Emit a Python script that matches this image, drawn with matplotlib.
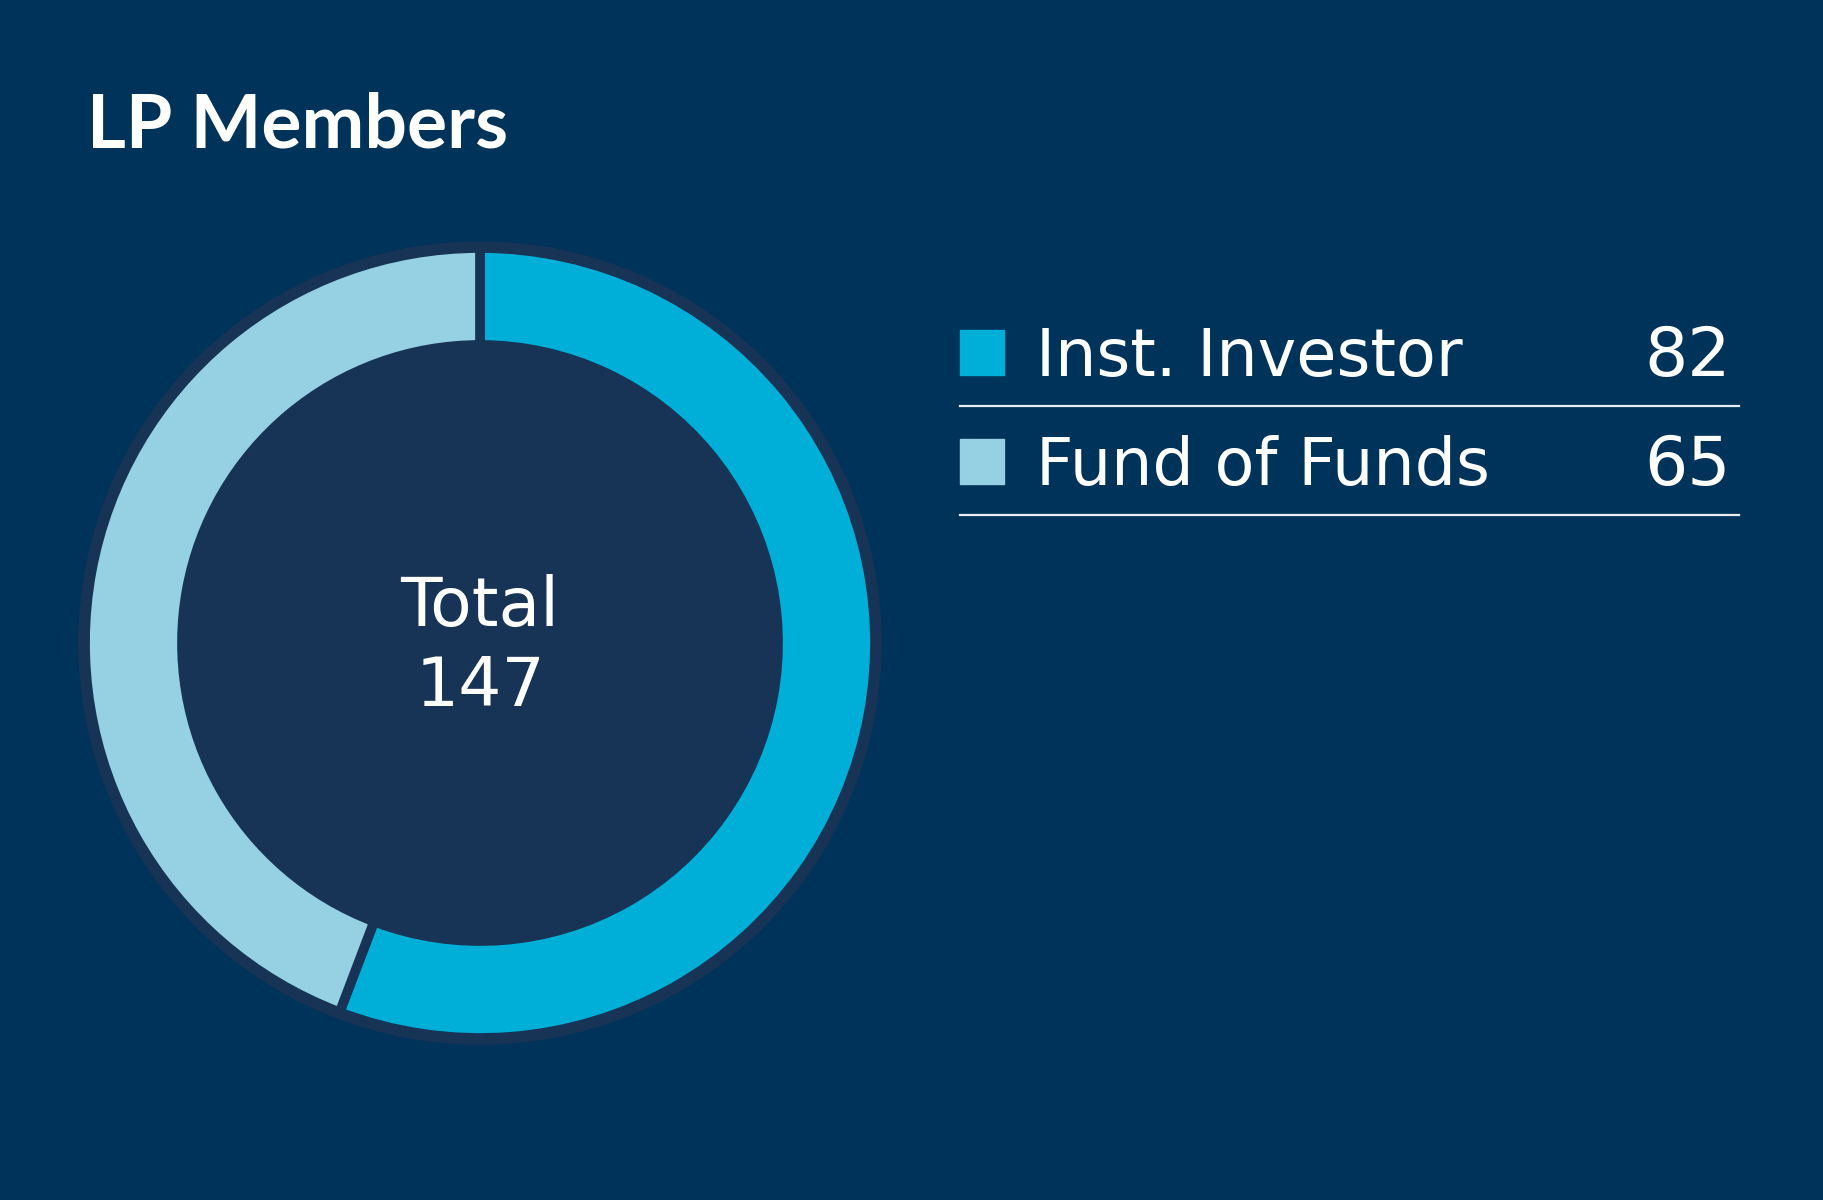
import matplotlib
matplotlib.use("Agg")
import matplotlib.pyplot as plt
from matplotlib.patches import Circle, Rectangle

# Data
labels = ["Inst. Investor", "Fund of Funds"]
values = [82, 65]
colors = ["#00afd8", "#95d1e3"]

bg = "#003359"
inner = "#173456"

fig = plt.figure(figsize=(18.24, 12), dpi=100)
fig.patch.set_facecolor(bg)
ax = fig.add_axes([0, 0, 1, 1])
ax.set_facecolor(bg)

# donut (pixel coords, y up)
cx, cy, R = 480, 557, 395
ax.add_patch(Circle((cx, cy), R + 6, color=inner, zorder=0))
ax.pie(values, colors=colors, radius=R, center=(cx, cy), startangle=90,
       counterclock=False,
       wedgeprops=dict(width=97, edgecolor=inner, linewidth=7))
ax.add_patch(Circle((cx, cy), R - 97, color=inner, zorder=3))

ax.text(cx, 574, "Total", color="white", fontsize=49, ha="center", va="baseline", zorder=4)
ax.text(cx, 494, str(sum(values)), color="white", fontsize=49, ha="center", va="baseline", zorder=4)

# title
ax.text(87, 1052, "LP Members", color="white", fontsize=54, fontweight="bold",
        family="Lato", ha="left", va="baseline")

# legend rows
row_h = 109
for i, (lab, val, col) in enumerate(zip(labels, values, colors)):
    y0 = 824 - i * row_h
    ax.add_patch(Rectangle((960, y0 + 1), 44, 45, color=col))
    ax.text(1036, y0, lab, color="white", fontsize=47, ha="left", va="baseline")
    ax.text(1731, y0, str(val), color="white", fontsize=49, ha="right", va="baseline")
    ax.plot([960, 1739], [y0 - 30, y0 - 30], color="#e8eef4", linewidth=1.6)

ax.set_xlim(0, 1824)
ax.set_ylim(0, 1200)
ax.set_aspect("equal")
ax.axis("off")

fig.savefig("out.png", dpi=100, facecolor=bg)
